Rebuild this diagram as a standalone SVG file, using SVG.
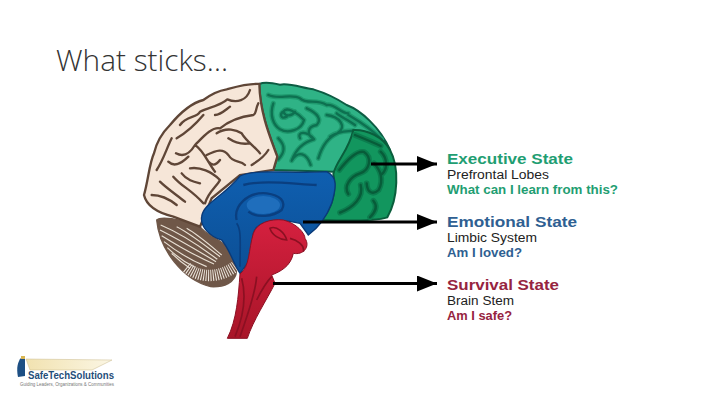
<svg xmlns="http://www.w3.org/2000/svg" xmlns:xlink="http://www.w3.org/1999/xlink" width="720" height="405" viewBox="0 0 720 405">
<style>
.h{font-family:"Liberation Sans",Arial,sans-serif;font-weight:700;font-size:14.5px}
.s{font-family:"Liberation Sans",Arial,sans-serif;font-size:12.5px;fill:#222}
.q{font-family:"Liberation Sans",Arial,sans-serif;font-weight:700;font-size:12px}
.g{fill:#1f9e72}.b{fill:#2f5f92}.r{fill:#96243f}
.gy{fill:none;stroke-linecap:round;stroke-linejoin:round}
.line{stroke:#000;stroke-width:3;fill:none}
</style>
<defs>
<linearGradient id="blue" x1="0" y1="0" x2="0" y2="1"><stop offset="0" stop-color="#0f5fb0"/><stop offset="1" stop-color="#0c4f95"/></linearGradient>
<linearGradient id="red" x1="0" y1="0" x2="0" y2="1"><stop offset="0" stop-color="#d5203f"/><stop offset="1" stop-color="#a81528"/></linearGradient>
<linearGradient id="beam" x1="0" y1="0" x2="1" y2="0"><stop offset="0" stop-color="#f1e2b0"/><stop offset="1" stop-color="#fbf6e4"/></linearGradient>
<marker id="ah" markerUnits="userSpaceOnUse" markerWidth="20" markerHeight="16" refX="20" refY="8" orient="auto"><path d="M0,0L20,8L0,16Z" fill="#000"/></marker>
<path id="gyriA" d="M385,75C415,90 455,70 480,85C500,105 530,85 560,105C585,100 600,130 625,130M400,100C388,135 400,165 420,178C445,192 485,180 492,150C472,128 440,108 430,125C438,142 455,138 465,125M500,115C535,130 545,150 530,165C500,170 500,195 522,208C495,215 470,232 455,272M560,135C600,140 622,170 592,190C562,202 545,232 535,265M625,135C650,150 680,165 725,208M455,272C475,240 500,250 512,285M415,205C440,230 432,250 415,268M480,205C470,185 500,180 522,208M440,140C420,150 420,130 430,125M570,200C600,180 625,185 640,182M645,165C625,150 600,140 590,130"/>
<path id="gyriB" d="M598,300C620,272 650,240 672,246C697,262 690,300 660,310C630,320 610,350 625,372M645,195C670,205 695,215 722,228M702,280C722,300 732,330 716,360C700,375 682,370 680,340M662,345C672,382 640,412 600,428M722,245C746,268 740,300 726,312M700,392C716,410 702,430 690,442"/>
</defs>
<rect width="720" height="405" fill="#fff"/>
<text id="title" x="56" y="71" font-size="30" font-weight="300" fill="#333" textLength="172" lengthAdjust="spacingAndGlyphs" style="font-family:'Open Sans','Liberation Sans',sans-serif">What sticks…</text>

<g id="brain" transform="translate(140,70) scale(.33333)">
<g id="cerebellum">
<path d="M50,450C62,438 115,445 180,470C195,495 250,510 270,540L290,600C288,640 250,652 212,650C130,630 58,540 50,450Z" fill="#6f5748" stroke="#6f5748" stroke-width="4"/>
<path d="M62,465C110,485 175,525 232,568M60,480C110,505 170,540 228,575M65,497C110,525 160,555 222,582M72,515C110,545 150,570 200,590M82,533C110,560 140,580 165,592M95,550C120,575 135,585 150,595M110,470C150,490 195,525 240,560M140,475C175,495 215,530 245,555" fill="none" stroke="#e8dfd3" stroke-width="3.500"/>
<path d="M140,592C180,625 235,625 285,590" fill="none" stroke="#eee7de" stroke-width="34" stroke-dasharray="3 4"/>
</g>
<g id="frontal">
<path d="M358,42C370,36 395,38 420,44C450,38 490,55 520,58C560,70 590,85 620,105C660,120 720,170 750,240L690,280L580,305L400,300L412,260C390,200 360,130 358,42Z" fill="#2fb386" stroke="#0d5c43" stroke-width="6"/>
<use xlink:href="#gyriA" class="gy" stroke="#1f9a6e" stroke-width="15"/>
<use xlink:href="#gyriA" class="gy" stroke="#0d7050" stroke-width="7"/>
</g>
<g id="prefrontal">
<path d="M640,180C680,178 730,200 750,240C778,290 775,385 742,442C700,455 600,452 545,450C572,420 592,370 580,312C590,270 625,245 640,180Z" fill="#12965e" stroke="#0a5e3c" stroke-width="6"/>
<use xlink:href="#gyriB" class="gy" stroke="#0c7d4e" stroke-width="17"/>
<use xlink:href="#gyriB" class="gy" stroke="#075c39" stroke-width="7"/>
</g>
<g id="parietal">
<path d="M358,42C325,40 290,50 260,58C235,62 210,75 190,90C150,100 115,135 90,165C70,185 50,215 42,250C28,280 25,330 12,375C20,410 60,430 100,440L180,470L215,385L300,315L400,300L412,260C390,200 360,130 358,42Z" fill="#f6e6d8" stroke="#5f4637" stroke-width="7"/>
<path class="gy" stroke="#5f4637" stroke-width="7" d="M330,60C320,92 290,100 262,88C240,108 205,112 180,125C170,145 140,135 120,165M340,135C300,140 270,150 240,175C215,170 190,200 165,225C150,250 130,262 108,250M110,205C135,190 165,165 190,135M95,205C80,235 70,270 50,300M230,190C260,170 290,180 305,190C320,215 345,230 360,250M165,225C190,240 205,280 225,305M200,255C230,240 250,235 265,255C280,280 300,270 315,285M150,295C180,290 215,305 240,330C230,350 205,365 195,400M100,320C125,350 155,360 190,400M60,335C80,355 110,375 135,395M35,375C60,375 85,385 110,405M330,220C300,225 280,215 265,205M385,240C370,265 350,275 335,285M355,100C345,120 350,130 340,135M270,110C250,125 240,135 225,135M145,260C120,285 100,290 85,275M180,340C160,335 140,330 125,310M240,270C225,290 215,285 205,275"/>
</g>
<g id="limbic">
<path d="M300,318C350,295 450,312 560,305C592,320 590,350 575,400C560,440 540,470 505,495L480,460C420,445 350,450 340,490L330,570L300,610C280,580 270,540 245,510C210,500 180,470 185,440C190,400 250,380 300,318Z" fill="url(#blue)" stroke="#0a3a78" stroke-width="4"/>
<path d="M310,345C370,330 440,340 530,345M290,450C280,410 320,365 380,370C420,375 440,395 425,420C400,440 350,445 325,425" fill="none" stroke="#0a3f80" stroke-width="7"/>
<ellipse cx="370" cy="405" rx="50" ry="27" fill="#1f6ebc"/>
<path d="M290,460C305,480 300,520 300,590" fill="none" stroke="#0a3f80" stroke-width="5"/>
</g>
<g id="stem">
<path d="M340,490C350,460 390,445 430,450C470,460 495,490 495,505C512,530 490,556 460,550C452,590 420,605 395,615L405,640C380,690 340,750 322,805L262,805C290,750 295,680 300,612C330,590 325,540 340,490Z" fill="url(#red)" stroke="#8b1022" stroke-width="3"/>
<path d="M390,475C410,465 435,490 440,510C420,510 395,495 390,475ZM450,505C470,510 495,525 490,545M305,625C320,680 310,740 285,800M350,620C345,680 320,740 300,800M395,620C375,640 360,670 350,690" fill="none" stroke="#8b1022" stroke-width="5"/>
</g>
</g>

<g id="connectors">
<path class="line" d="M371,164H437" marker-end="url(#ah)"/>
<path class="line" d="M303,222H437" marker-end="url(#ah)"/>
<path class="line" d="M273,283.500H437" marker-end="url(#ah)"/>
</g>

<g id="executive">
<text class="h g" x="447" y="164" textLength="126" lengthAdjust="spacingAndGlyphs">Executive State</text>
<text class="s" x="447" y="179" textLength="102" lengthAdjust="spacingAndGlyphs">Prefrontal Lobes</text>
<text class="q g" x="447" y="194" textLength="171" lengthAdjust="spacingAndGlyphs">What can I learn from this?</text>
</g>
<g id="emotional">
<text class="h b" x="447" y="227" textLength="130" lengthAdjust="spacingAndGlyphs">Emotional State</text>
<text class="s" x="447" y="242" textLength="90" lengthAdjust="spacingAndGlyphs">Limbic System</text>
<text class="q b" x="447" y="257" textLength="75" lengthAdjust="spacingAndGlyphs">Am I loved?</text>
</g>
<g id="survival">
<text class="h r" x="447" y="290" textLength="112" lengthAdjust="spacingAndGlyphs">Survival State</text>
<text class="s" x="447" y="305" textLength="67" lengthAdjust="spacingAndGlyphs">Brain Stem</text>
<text class="q r" x="447" y="320" textLength="65" lengthAdjust="spacingAndGlyphs">Am I safe?</text>
</g>

<g id="logo">
<path d="M26,359L112,360L92,370L30,370Z" fill="url(#beam)" stroke="#c9b98a" stroke-width=".5"/>
<path d="M18,377C16,368 18,361 21,358H25V376Z" fill="#1d4f84"/>
<rect x="21" y="356" width="4" height="3" fill="#d9b653"/>
<text x="28" y="379" font-size="10.500" font-weight="700" fill="#1f4e79" textLength="86" lengthAdjust="spacingAndGlyphs" style="font-family:'Liberation Sans',Arial,sans-serif">SafeTechSolutions</text>
<text x="20" y="385.500" font-size="4.500" fill="#777" textLength="94" lengthAdjust="spacingAndGlyphs" style="font-family:'Liberation Sans',Arial,sans-serif">Guiding Leaders, Organizations &amp; Communities</text>
</g>
</svg>
